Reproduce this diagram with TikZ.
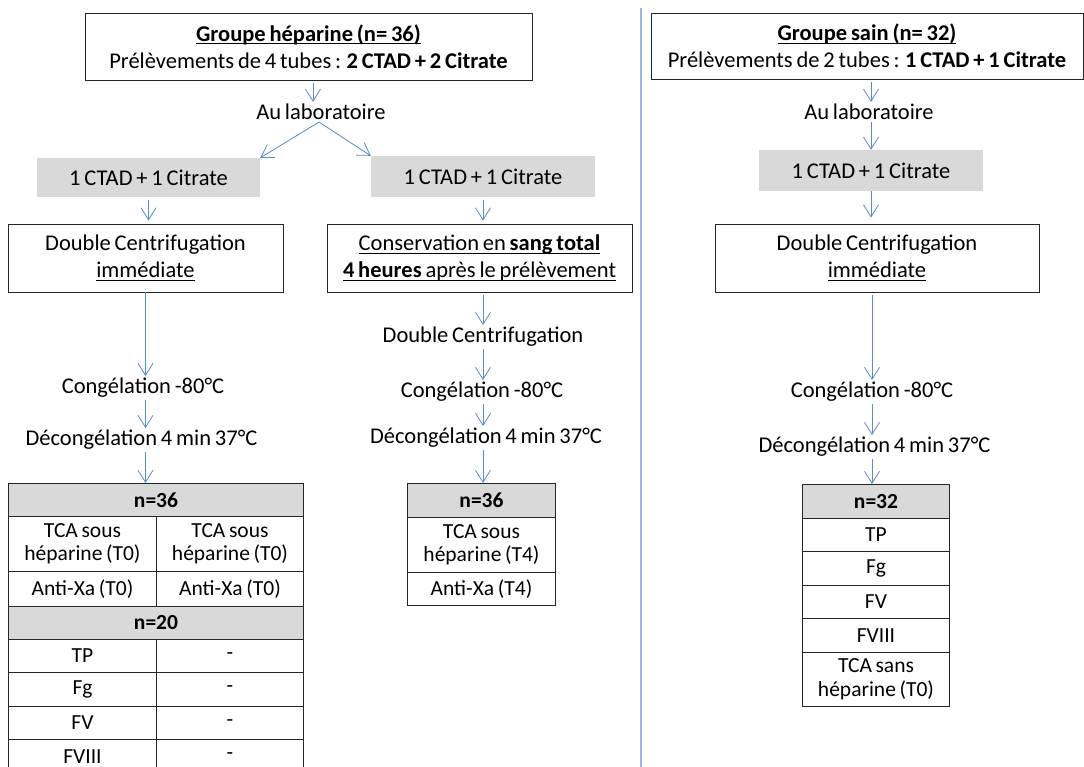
\documentclass[tikz,border=0pt]{standalone}
\usepackage{fontspec}
\setmainfont{Carlito}
\usetikzlibrary{arrows.meta}
\definecolor{arrowblue}{HTML}{5B8BCB}
\definecolor{sepblue}{HTML}{96B8E6}
\definecolor{boxgray}{HTML}{D9D9D9}
\newcommand{\maintext}{\fontsize{22.5}{27}\selectfont\spaceskip=0.17em plus 0.05em}
\newcommand{\celltext}{\fontsize{21.5}{23.5}\selectfont\spaceskip=0.17em plus 0.05em}
% simple underline of a single line of text
\newcommand{\undr}[1]{{\setbox0\hbox{#1}\rlap{\rule[-3pt]{\wd0}{0.9pt}}\box0}}
\tikzset{
  arr/.style={draw=arrowblue, line width=0.8pt, -{Straight Barb[length=12pt,width=15pt,line width=0.8pt]}},
  box/.style={draw=black!85, line width=0.9pt, fill=white, align=center, inner sep=0, font=\maintext},
  graybox/.style={fill=boxgray, align=center, inner sep=0, font=\maintext},
  lbl/.style={align=center, inner sep=2pt, font=\maintext},
  cell/.style={draw=black!85, line width=1pt, align=center, inner sep=0, anchor=north west, font=\celltext},
  hcell/.style={cell, fill=boxgray, font=\celltext\bfseries},
}
\begin{document}
\begin{tikzpicture}[x=1pt, y=-1pt]
\useasboundingbox (0,0) rectangle (1084,767);
\clip (0,0) rectangle (1084,767);
\fill[white] (0,0) rectangle (1084,767);

% column separator
\draw[sepblue, line width=1.2pt] (641,8) -- (641,767);

%% ---------- heparin group ----------
\node[box, minimum width=447pt, minimum height=67pt] (g1) at (308.5,46.5)
  {\undr{\textbf{Groupe héparine (n= 36)}}\\Prélèvements de 4 tubes : \textbf{2 CTAD + 2 Citrate}};
\node[lbl] (lab1) at (321,112) {Au laboratoire};
\node[graybox, minimum width=223pt, minimum height=39pt] (c1) at (148.5,177.5) {1 CTAD + 1 Citrate};
\node[graybox, minimum width=224pt, minimum height=41pt] (c2) at (483,176.5) {1 CTAD + 1 Citrate};

% immediate branch
\node[box, minimum width=275pt, minimum height=68pt] (d1) at (145.5,258)
  {Double Centrifugation\\\undr{immédiate}};
\node[lbl] (cg1) at (143,388) {Congélation -80°C};
\node[lbl] (dg1) at (141.5,440) {Décongélation 4 min 37°C};

% delayed branch
\node[box, minimum width=305pt, minimum height=68pt] (cons) at (479.5,258)
  {\undr{Conservation en \textbf{sang total}}\\\undr{\textbf{4 heures} après le prélèvement}};
\node[lbl] (dc2) at (483,337) {Double Centrifugation};
\node[lbl] (cg2) at (482,392) {Congélation -80°C};
\node[lbl] (dg2) at (486,438) {Décongélation 4 min 37°C};

% table, immediate branch
\node[hcell, minimum width=295pt, minimum height=33pt] (ta0) at (8,483) {n=36};
\node[cell, minimum width=148pt, minimum height=55pt] (ta1l) at (8,516) {TCA sous\\héparine (T0)};
\node[cell, minimum width=147pt, minimum height=55pt] (ta1r) at (156,516) {TCA sous\\héparine (T0)};
\node[cell, minimum width=148pt, minimum height=35pt] (ta2l) at (8,571) {Anti-Xa (T0)};
\node[cell, minimum width=147pt, minimum height=35pt] (ta2r) at (156,571) {Anti-Xa (T0)};
\node[hcell, minimum width=295pt, minimum height=33pt] (ta3) at (8,606) {n=20};
\node[cell, minimum width=148pt, minimum height=33pt] (ta4l) at (8,639) {TP};
\node[cell, minimum width=147pt, minimum height=33pt] (ta4r) at (156,639) {-};
\node[cell, minimum width=148pt, minimum height=34pt] (ta5l) at (8,672) {Fg};
\node[cell, minimum width=147pt, minimum height=34pt] (ta5r) at (156,672) {-};
\node[cell, minimum width=148pt, minimum height=33pt] (ta6l) at (8,706) {FV};
\node[cell, minimum width=147pt, minimum height=33pt] (ta6r) at (156,706) {-};
\node[cell, minimum width=148pt, minimum height=34pt] (ta7l) at (8,739) {FVIII};
\node[cell, minimum width=147pt, minimum height=34pt] (ta7r) at (156,739) {-};

% table, delayed branch
\node[hcell, minimum width=148pt, minimum height=34pt] (tb0) at (407,483) {n=36};
\node[cell, minimum width=148pt, minimum height=55pt] (tb1) at (407,517) {TCA sous\\héparine (T4)};
\node[cell, minimum width=148pt, minimum height=33pt] (tb2) at (407,572) {Anti-Xa (T4)};

% arrows, heparin group
\coordinate (s1) at ([xshift=-2pt]lab1.south);
\draw[arr, shorten <=3pt] (g1.south -| lab1.south) ++(-8,0) -- ([xshift=-8pt]lab1.north);
\draw[arr] (s1) -- (c1.north east);
\draw[arr] (s1) -- (c2.north west);
\draw[arr, shorten <=3pt, shorten >=3pt] (c1.south) -- (d1.north -| c1.south);
\draw[arr] (d1.south) -- (d1.south |- cg1.north);
\draw[arr] (cg1.south -| d1.south) -- (dg1.north -| d1.south);
\draw[arr] (dg1.south -| d1.south) -- (ta0.north -| d1.south);
\draw[arr, shorten <=3pt, shorten >=3pt] (c2.south) -- (cons.north -| c2.south);
\draw[arr, shorten <=3pt] (cons.south -| c2.south) -- (dc2.north -| c2.south);
\draw[arr] (dc2.south -| c2.south) -- (cg2.north -| c2.south);
\draw[arr] (cg2.south -| c2.south) -- (dg2.north -| c2.south);
\draw[arr] (dg2.south -| c2.south) -- (tb0.north -| c2.south);

%% ---------- healthy group ----------
\node[box, minimum width=432pt, minimum height=66pt] (g2) at (867,46)
  {\undr{\textbf{Groupe sain (n= 32)}}\\Prélèvements de 2 tubes : \textbf{1 CTAD + 1 Citrate}};
\node[lbl] (lab2) at (869,112) {Au laboratoire};
\node[graybox, minimum width=224pt, minimum height=41pt] (c3) at (871,170.5) {1 CTAD + 1 Citrate};
\node[box, minimum width=324pt, minimum height=68pt] (d3) at (877,258)
  {Double Centrifugation\\\undr{immédiate}};
\node[lbl] (cg3) at (872,392) {Congélation -80°C};
\node[lbl] (dg3) at (874.5,447) {Décongélation 4 min 37°C};

\node[hcell, minimum width=147pt, minimum height=34pt] (tc0) at (802,484) {n=32};
\node[cell, minimum width=147pt, minimum height=33pt] (tc1) at (802,518) {TP};
\node[cell, minimum width=147pt, minimum height=34pt] (tc2) at (802,551) {Fg};
\node[cell, minimum width=147pt, minimum height=33pt] (tc3) at (802,585) {FV};
\node[cell, minimum width=147pt, minimum height=34pt] (tc4) at (802,618) {FVIII};
\node[cell, minimum width=147pt, minimum height=54pt] (tc5) at (802,652) {TCA sans\\héparine (T0)};

\draw[arr, shorten <=3pt] (g2.south -| c3.north) -- (lab2.north -| c3.north);
\draw[arr] (lab2.south -| c3.north) -- (c3.north);
\draw[arr, shorten >=6pt] (c3.south) -- (d3.north -| c3.south);
\draw[arr, shorten <=3pt] (d3.south -| cg3.north) -- (cg3.north);
\draw[arr] (cg3.south) -- (dg3.north -| cg3.south);
\draw[arr] (dg3.south -| cg3.south) -- (tc0.north -| cg3.south);
\end{tikzpicture}
\end{document}
